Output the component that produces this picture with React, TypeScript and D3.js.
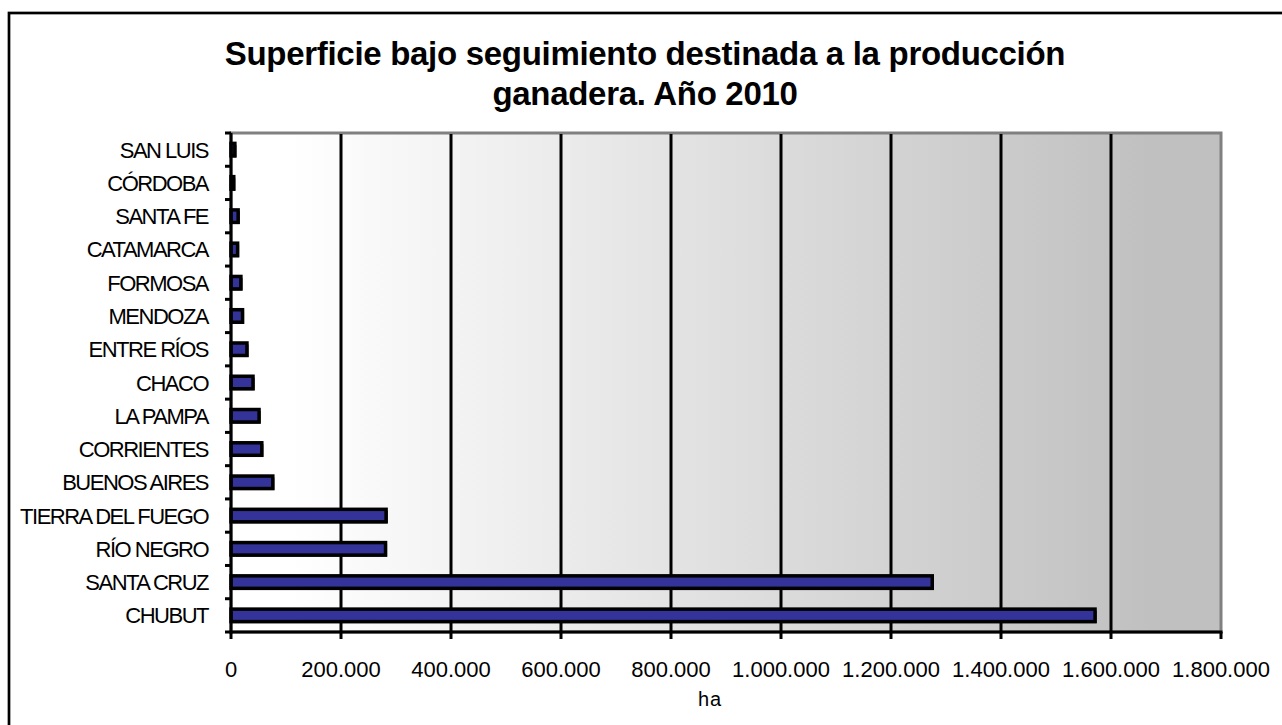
import * as d3 from "d3";
import React from "react";

const categories = [
  "SAN LUIS",
  "CÓRDOBA",
  "SANTA FE",
  "CATAMARCA",
  "FORMOSA",
  "MENDOZA",
  "ENTRE RÍOS",
  "CHACO",
  "LA PAMPA",
  "CORRIENTES",
  "BUENOS AIRES",
  "TIERRA DEL FUEGO",
  "RÍO NEGRO",
  "SANTA CRUZ",
  "CHUBUT",
];
const hectares = [
  7000, 5000, 13000, 12000, 18000, 21000, 29000, 40000, 51000, 56000, 76000,
  282000, 281000, 1275000, 1571000,
];
const xTicks = [0, 200000, 400000, 600000, 800000, 1000000, 1200000, 1400000, 1600000, 1800000];
const titleLines = ["Superficie bajo seguimiento destinada a la producción", "ganadera. Año 2010"];
const xTitle = "ha";

const W = 1282;
const H = 725;
const plot = { left: 231, right: 1221, top: 133, bottom: 632 };
const font = "'Liberation Sans', Arial, sans-serif";

const fmt = (v: number) => d3.format(",")(v).replace(/,/g, ".");

export default function App() {
  const x = d3.scaleLinear().domain([0, 1800000]).range([plot.left, plot.right]);
  const y = d3.scaleBand().domain(categories).range([plot.top, plot.bottom]);
  const barH = 12.5;
  const boundaries = d3.range(categories.length + 1).map((i) => plot.top + i * y.step());

  return (
    <svg width={W} height={H} style={{ position: "absolute", left: 0, top: 0 }}>
      <defs>
        <linearGradient id="bg" x1="0" x2="1" y1="0" y2="0">
          <stop offset="0.06" stopColor="#ffffff" />
          <stop offset="0.93" stopColor="#c0c0c0" />
        </linearGradient>
      </defs>
      <rect x={0} y={0} width={W} height={H} fill="#fff" />
      <rect x={9} y={13} width={W + 20} height={H + 20} fill="none" stroke="#000" strokeWidth={2.7} />

      {titleLines.map((t, i) => (
        <text
          key={t}
          x={645}
          y={65 + i * 40}
          textAnchor="middle"
          fontFamily={font}
          fontWeight="bold"
          fontSize={33}
          letterSpacing={-0.3}
          fill="#000"
        >
          {t}
        </text>
      ))}

      {/* plot area */}
      <rect
        x={plot.left}
        y={plot.top}
        width={plot.right - plot.left}
        height={plot.bottom - plot.top}
        fill="url(#bg)"
        stroke="#808080"
        strokeWidth={3}
      />
      {xTicks.slice(1, -1).map((t) => (
        <line key={t} x1={x(t)} x2={x(t)} y1={plot.top + 1} y2={plot.bottom} stroke="#000" strokeWidth={3} />
      ))}

      {/* bars */}
      {categories.map((c, i) => {
        const yc = (y(c) as number) + y.bandwidth() / 2;
        return (
          <g key={c}>
            <rect
              x={x(0) + 1.5}
              y={yc - barH / 2 + 1.5}
              width={x(hectares[i]) - x(0)}
              height={barH}
              fill="#000"
            />
            <rect
              x={x(0)}
              y={yc - barH / 2}
              width={x(hectares[i]) - x(0)}
              height={barH}
              fill="#333399"
              stroke="#000"
              strokeWidth={3.5}
            />
          </g>
        );
      })}

      {/* axes */}
      <line x1={plot.left} x2={plot.left} y1={plot.top} y2={plot.bottom + 1.5} stroke="#000" strokeWidth={3} />
      {boundaries.map((b, i) => (
        <line key={i} x1={plot.left - 6} x2={plot.left} y1={b} y2={b} stroke="#000" strokeWidth={3} />
      ))}
      <line x1={plot.left - 1.5} x2={plot.right + 1.5} y1={plot.bottom} y2={plot.bottom} stroke="#000" strokeWidth={3} />
      {xTicks.map((t) => (
        <line key={t} x1={x(t)} x2={x(t)} y1={plot.bottom} y2={plot.bottom + 7} stroke="#000" strokeWidth={3} />
      ))}

      {categories.map((c) => (
        <text
          key={c}
          x={208}
          y={(y(c) as number) + y.bandwidth() / 2 + 8}
          textAnchor="end"
          fontFamily={font}
          fontSize={22}
          letterSpacing={-1.5}
          fill="#000"
        >
          {c}
        </text>
      ))}
      {xTicks.map((t) => (
        <text key={t} x={x(t)} y={677} textAnchor="middle" fontFamily={font} fontSize={22} fill="#000">
          {fmt(t)}
        </text>
      ))}
      <text x={710} y={706} textAnchor="middle" fontFamily={font} fontSize={20} letterSpacing={1} fill="#000">
        {xTitle}
      </text>
    </svg>
  );
}
